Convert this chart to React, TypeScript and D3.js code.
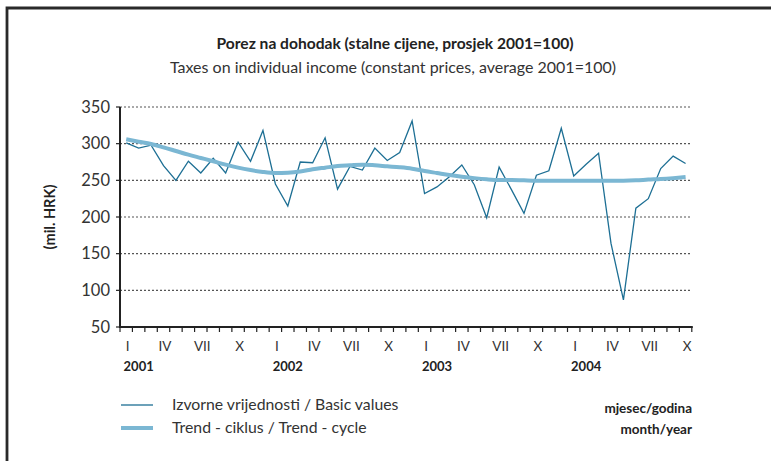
import React, { useEffect, useRef } from "react";
import * as d3 from "d3";

const monthLabels = ["I", "IV", "VII", "X"];
const years = ["2001", "2002", "2003", "2004"];
const yTicks = [50, 100, 150, 200, 250, 300, 350];

const basicValues = [
  301, 294, 298, 270, 250, 276, 260, 280, 260, 302, 276, 318,
  245, 215, 275, 274, 308, 238, 269, 264, 294, 277, 288, 331,
  232, 241, 255, 271, 244, 199, 268, 237, 205, 257, 263, 321,
  256, 272, 287, 164, 87, 212, 225, 266, 283, 273,
];

const trendValues = [
  306, 302.7, 299.6, 295, 290, 285, 280.5, 276, 271.4, 267.3, 264, 261.4,
  260, 260.4, 262, 265, 267.3, 269.5, 270.5, 271.4, 270.5, 269.1, 267.8, 265.9,
  262.7, 260, 257.3, 255, 253, 251.4, 250.5, 250.5, 250, 249.6, 249.6, 249.6,
  249.6, 249.6, 249.6, 249.6, 249.6, 250, 251, 251.8, 253, 254.5,
];

const W = 771;
const H = 461;
const FONT = "Lato, 'Open Sans', sans-serif";

export default function App() {
  const ref = useRef<SVGSVGElement>(null);

  useEffect(() => {
    const svg = d3.select(ref.current);
    svg.selectAll("*").remove();

    const n = basicValues.length;
    const x0 = 120;
    const x1 = 691.8;
    const x = d3.scaleBand<number>().domain(d3.range(n)).range([x0, x1]).padding(0);
    const cx = (i: number) => (x(i) as number) + x.bandwidth() / 2;
    const y = d3.scaleLinear().domain([50, 350]).range([327, 107]);

    // frame
    svg.append("path")
      .attr("d", `M7,${H + 2} L7,8 L${W + 2},8`)
      .attr("fill", "none")
      .attr("stroke", "#2a2a2a")
      .attr("stroke-width", 2.8);

    // title
    svg.append("text")
      .attr("x", 395).attr("y", 49)
      .attr("text-anchor", "middle")
      .attr("font-family", FONT)
      .attr("font-weight", "bold")
      .attr("font-size", 15.6)
      .attr("fill", "#222")
      .text("Porez na dohodak (stalne cijene, prosjek 2001=100)");
    svg.append("text")
      .attr("x", 393).attr("y", 73)
      .attr("text-anchor", "middle")
      .attr("font-family", FONT)
      .attr("font-size", 16)
      .attr("fill", "#333")
      .text("Taxes on individual income (constant prices, average 2001=100)");

    // gridlines
    svg.append("g").selectAll("line")
      .data(yTicks.filter((t) => t > 50))
      .join("line")
      .attr("x1", x0).attr("x2", x1)
      .attr("y1", (d) => y(d)).attr("y2", (d) => y(d))
      .attr("stroke", "#555")
      .attr("stroke-width", 1.2)
      .attr("stroke-dasharray", "2,2");

    // y axis
    const ya = svg.append("g");
    ya.append("line")
      .attr("x1", x0).attr("x2", x0)
      .attr("y1", y(350)).attr("y2", y(50) + 1)
      .attr("stroke", "#222").attr("stroke-width", 2);
    ya.selectAll("line.tick").data(yTicks).join("line")
      .attr("class", "tick")
      .attr("x1", x0 - 4).attr("x2", x0)
      .attr("y1", (d) => y(d)).attr("y2", (d) => y(d))
      .attr("stroke", "#222").attr("stroke-width", 1.2);
    ya.selectAll("text").data(yTicks).join("text")
      .attr("x", 110).attr("y", (d) => y(d))
      .attr("dy", "0.35em")
      .attr("text-anchor", "end")
      .attr("font-family", FONT)
      .attr("font-size", 16.5)
      .attr("fill", "#333")
      .text((d) => String(d));

    svg.append("text")
      .attr("transform", `translate(55,217) rotate(-90)`)
      .attr("text-anchor", "middle")
      .attr("font-family", FONT)
      .attr("font-weight", "bold")
      .attr("font-size", 14.5)
      .attr("fill", "#222")
      .text("(mil. HRK)");

    // x axis
    const xa = svg.append("g");
    xa.append("line")
      .attr("x1", x0 - 1).attr("x2", x1 + 1)
      .attr("y1", 327).attr("y2", 327)
      .attr("stroke", "#222").attr("stroke-width", 2.2);
    xa.selectAll("line.tick").data(d3.range(n + 1)).join("line")
      .attr("class", "tick")
      .attr("x1", (i) => x0 + i * x.bandwidth())
      .attr("x2", (i) => x0 + i * x.bandwidth())
      .attr("y1", 327).attr("y2", 332)
      .attr("stroke", "#222").attr("stroke-width", 1.2);
    const labelIdx = d3.range(n).filter((i) => i % 3 === 0);
    xa.selectAll("text.m").data(labelIdx).join("text")
      .attr("class", "m")
      .attr("x", (i) => cx(i) + 1.5)
      .attr("y", 351)
      .attr("text-anchor", "middle")
      .attr("font-family", FONT)
      .attr("font-size", 13.5)
      .attr("fill", "#333")
      .text((i) => monthLabels[(i % 12) / 3]);
    xa.selectAll("text.yr").data(years).join("text")
      .attr("class", "yr")
      .attr("x", (_d, k) => cx(k * 12 + 1))
      .attr("y", 371)
      .attr("text-anchor", "middle")
      .attr("font-family", FONT)
      .attr("font-weight", "bold")
      .attr("font-size", 13)
      .attr("fill", "#222")
      .text((d) => d);

    // lines
    const line = d3.line<number>().x((_d, i) => cx(i)).y((d) => y(d));
    svg.append("path")
      .attr("d", line.curve(d3.curveLinear)(basicValues) as string)
      .attr("fill", "none")
      .attr("stroke", "#1d6f94")
      .attr("stroke-width", 1.3);
    const tline = d3.line<number>().x((_d, i) => cx(i)).y((d) => y(d)).curve(d3.curveMonotoneX);
    svg.append("path")
      .attr("d", tline(trendValues) as string)
      .attr("fill", "none")
      .attr("stroke", "#7bb7d3")
      .attr("stroke-width", 4);

    // legend
    const lg = svg.append("g");
    lg.append("line").attr("x1", 121).attr("x2", 153).attr("y1", 405).attr("y2", 405)
      .attr("stroke", "#1d6f94").attr("stroke-width", 1.3);
    lg.append("line").attr("x1", 121).attr("x2", 153).attr("y1", 428).attr("y2", 428)
      .attr("stroke", "#7bb7d3").attr("stroke-width", 4);
    lg.append("text").attr("x", 172).attr("y", 410)
      .attr("font-family", FONT).attr("font-size", 15.8).attr("fill", "#333")
      .text("Izvorne vrijednosti / Basic values");
    lg.append("text").attr("x", 172).attr("y", 433)
      .attr("font-family", FONT).attr("font-size", 15.8).attr("fill", "#333")
      .text("Trend - ciklus / Trend - cycle");
    lg.append("text").attr("x", 692).attr("y", 413)
      .attr("text-anchor", "end")
      .attr("font-family", FONT).attr("font-weight", "bold").attr("font-size", 13.5).attr("fill", "#222")
      .text("mjesec/godina");
    lg.append("text").attr("x", 692).attr("y", 434)
      .attr("text-anchor", "end")
      .attr("font-family", FONT).attr("font-weight", "bold").attr("font-size", 13.5).attr("fill", "#222")
      .text("month/year");
  }, []);

  return (
    <svg
      ref={ref}
      width={W}
      height={H}
      style={{ position: "absolute", left: 0, top: 0, background: "#fff" }}
    />
  );
}
